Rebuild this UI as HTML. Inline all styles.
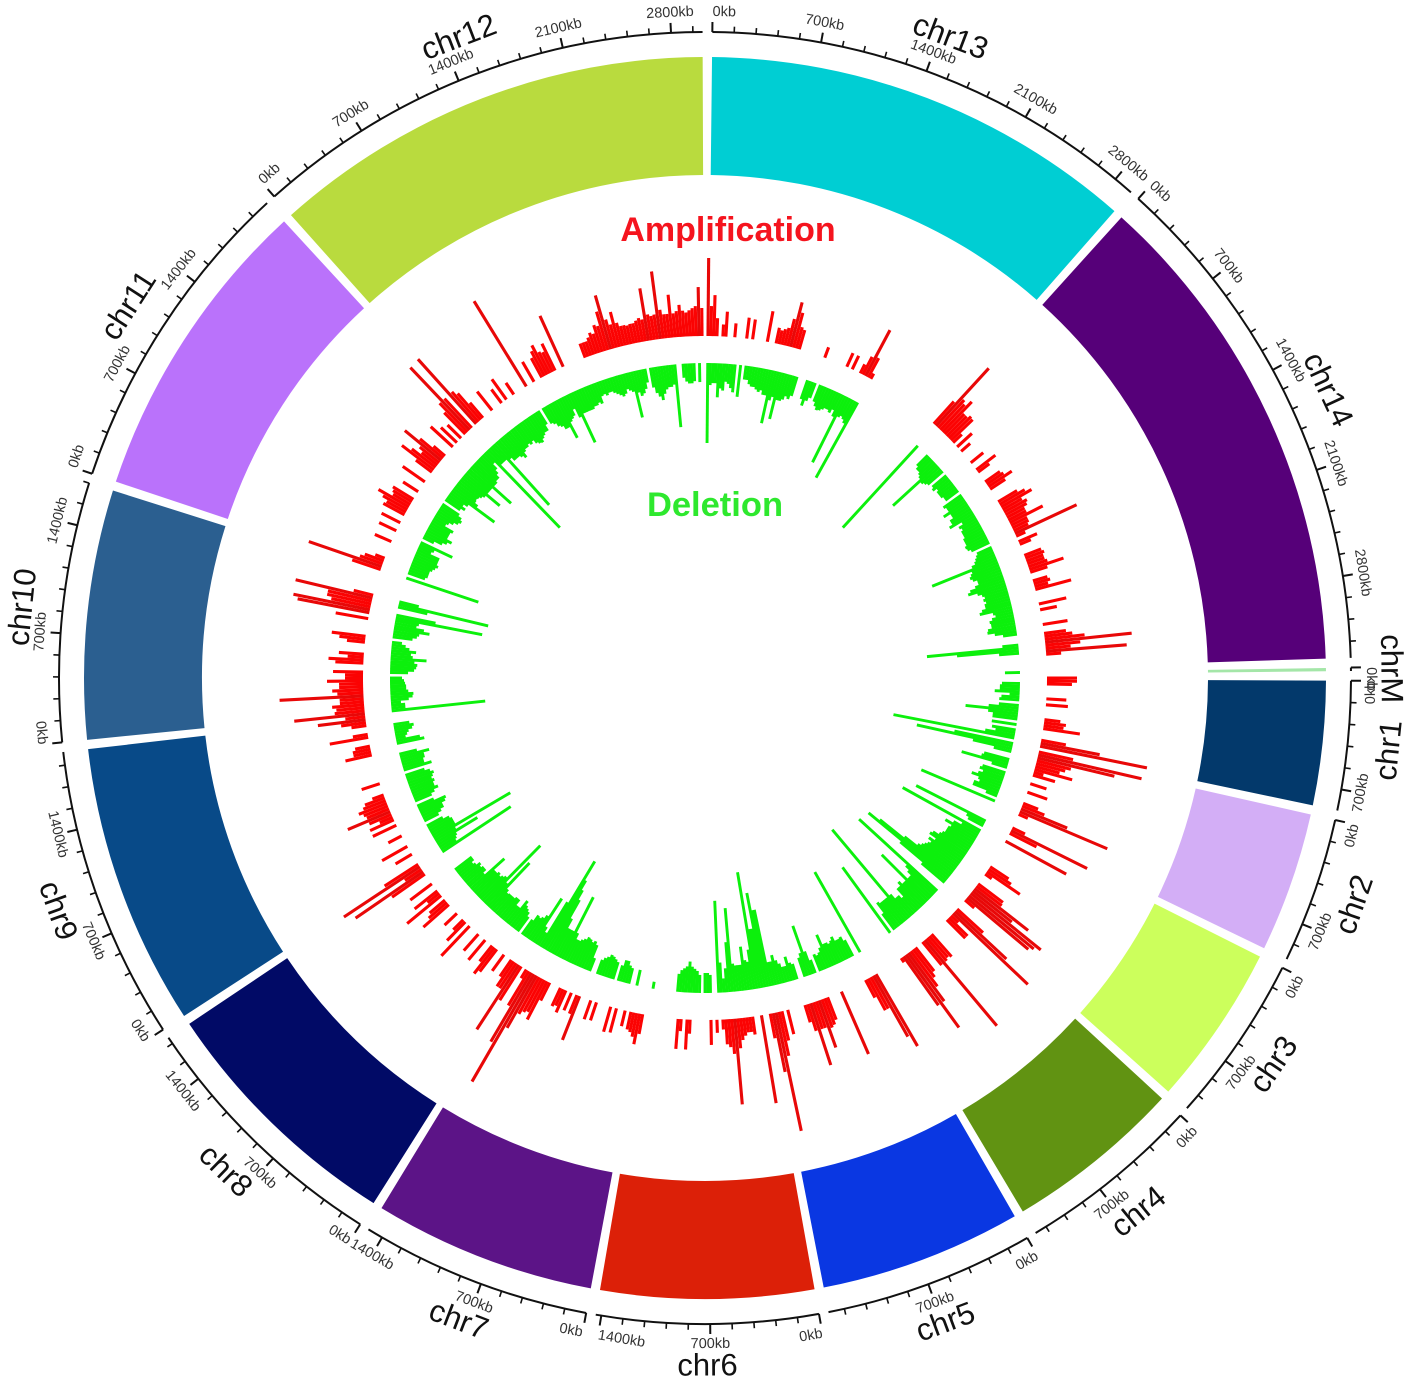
<!DOCTYPE html>
<html lang="en">
<head>
<meta charset="utf-8">
<title>Circos plot of amplification and deletion</title>
<style>
html,body{margin:0;padding:0;background:#fff;width:1417px;height:1391px;overflow:hidden}
svg{display:block}
text{font-family:"Liberation Sans",sans-serif}
</style>
</head>
<body>
<svg id="chart" xmlns="http://www.w3.org/2000/svg" width="1417" height="1391" viewBox="0 0 1417 1391">
<text x="728" y="241" text-anchor="middle" font-size="34" font-weight="bold" fill="#f5141e">Amplification</text>
<text x="715" y="516" text-anchor="middle" font-size="34.5" font-weight="bold" fill="#2ee82e">Deletion</text>
</svg>
<script>
// Chromosomes in clockwise order starting at the top
const chromNames = ["chr13","chr14","chrM","chr1","chr2","chr3","chr4","chr5","chr6","chr7","chr8","chr9","chr10","chr11","chr12"];
const chromLengthsKb = [2930,3327,22,837,945,1090,1198,1364,1436,1501,1725,1905,1681,2085,3002];
const chromColors = ["#00ced3","#560079","#a4e6a8","#03396b","#d3aef6","#ccff5c","#619312","#0a37e2","#dc2008","#5c1487","#010a66","#084a88","#2b5f90","#ba72fb","#b9db3e"];
// Amplification heights, one row per 10 degrees of the circle, 0.5 degree bins
const redValues = [
0,78,30,41,18,0,12,25,0,0,14,0,0,0,21,0,20,0,0,0,
0,31,0,0,16,14,16,18,28,46,36,22,20,0,0,0,0,0,0,0,
0,11,0,0,0,0,0,0,0,15,0,15,0,0,10,20,52,22,6,0,
0,0,0,0,0,0,0,0,0,0,0,0,0,0,0,0,0,0,0,0,
0,0,0,0,30,78,38,35,42,28,28,31,30,12,0,20,0,12,0,0,
0,0,16,0,0,24,14,0,0,0,18,20,28,18,0,0,0,0,22,29,
35,22,26,24,20,20,37,18,18,16,68,10,0,20,12,0,0,0,18,20,
18,18,20,36,18,0,0,15,17,14,37,0,0,0,0,28,0,17,0,0,
0,0,25,0,0,22,28,40,87,35,25,81,15,0,0,0,0,0,0,0,
30,30,25,0,0,0,0,20,0,22,0,0,0,0,16,22,20,37,0,0,
0,25,60,109,0,35,106,79,35,30,25,39,10,23,0,0,17,0,0,21,
0,0,0,16,24,50,95,10,0,0,0,0,14,85,30,0,0,69,0,0,
0,0,0,0,0,0,0,22,27,40,8,0,0,0,31,32,68,50,90,84,
80,12,0,0,0,35,70,103,10,26,26,0,0,0,0,0,0,30,28,30,
112,30,0,0,30,35,44,60,90,60,5,0,0,0,0,0,0,0,0,0,
83,70,36,36,20,0,0,0,0,0,0,0,0,68,0,0,0,0,24,28,
30,50,28,28,65,28,18,0,0,0,0,0,25,0,30,45,121,60,25,0,
0,89,0,0,18,15,15,18,22,30,86,35,28,25,10,0,13,0,25,0,
0,0,0,0,0,14,30,0,12,30,0,0,0,0,0,0,0,0,0,0,
0,20,31,24,20,18,0,16,0,0,25,0,26,0,0,0,0,19,0,20,
0,0,0,47,20,0,19,0,24,18,20,0,0,0,20,43,36,38,42,60,
124,80,40,10,0,40,77,30,30,20,0,0,20,0,0,28,33,20,0,0,
26,0,0,22,0,0,0,41,0,26,14,0,0,17,0,0,0,34,24,20,
0,44,15,29,0,0,27,0,0,0,40,82,20,91,40,0,0,0,19,0,
0,29,0,0,0,15,0,0,0,26,0,26,14,24,46,24,26,30,24,21,
12,0,0,0,19,0,0,0,0,0,0,0,0,0,27,18,18,15,0,0,
39,15,0,0,15,25,48,20,71,30,28,32,24,24,84,26,31,24,24,36,
18,18,30,0,0,28,35,16,25,0,0,0,18,26,34,0,0,0,0,0,
33,0,73,78,40,45,45,79,20,0,0,0,0,0,0,0,0,30,77,24,
20,10,0,0,0,0,0,18,0,0,0,19,0,0,21,0,0,24,22,28,
35,20,22,24,0,0,18,0,0,0,27,0,0,0,20,40,30,20,25,47,
30,15,0,0,0,30,0,22,0,19,0,30,40,86,40,0,87,40,35,20,
0,0,0,24,0,0,0,17,0,25,0,0,14,0,0,0,0,100,0,0,
23,0,0,22,28,33,24,22,30,0,0,56,0,0,0,0,0,0,0,15,
15,15,18,22,20,28,26,40,56,30,24,36,24,20,20,19,20,20,22,24,
22,53,26,24,25,68,29,24,24,43,24,26,32,26,24,26,28,30,49,28
];
// Deletion depths, same binning as the amplification track
const greenValues = [
0,80,22,20,20,34,25,27,18,20,24,28,0,32,0,14,14,18,20,20,
22,24,22,26,26,54,30,26,48,28,28,26,22,24,20,0,0,0,20,26,
20,16,0,18,22,25,24,22,20,20,22,18,24,74,22,20,22,25,86,0,
0,0,0,0,0,0,0,0,0,0,0,0,0,0,0,0,0,0,0,0,
0,0,0,0,0,111,0,0,0,0,15,18,18,20,22,60,24,22,20,0,
18,20,16,18,18,18,16,16,0,22,20,20,27,20,20,24,24,28,15,20,
18,20,20,20,22,22,22,24,23,20,0,16,18,20,22,26,70,28,30,32,
30,26,26,30,36,39,30,26,24,26,24,26,26,30,33,20,18,22,25,24,
24,28,29,22,14,0,0,0,16,92,62,20,0,0,0,0,0,0,15,0,
0,0,18,20,20,25,10,18,20,0,20,30,53,30,25,25,0,25,0,24,
20,30,123,0,60,98,40,18,0,0,26,28,48,16,0,24,26,22,26,32,
24,22,27,27,12,0,80,0,0,0,0,0,0,0,78,20,17,0,89,20,
28,36,28,30,30,30,32,34,40,42,34,40,36,38,40,42,45,60,90,103,
60,30,0,0,0,106,40,35,30,30,65,30,30,34,30,30,20,24,24,30,
117,30,30,30,30,32,20,0,81,0,0,0,0,0,0,0,0,0,0,0,
0,92,0,0,18,23,22,22,27,24,22,24,24,35,22,18,16,18,0,14,
24,52,24,20,0,0,16,18,25,16,16,20,24,30,24,24,78,78,96,60,
60,118,40,28,30,44,26,26,26,28,84,50,24,14,30,92,0,0,18,20,
20,0,18,22,24,26,31,26,24,22,18,0,0,0,0,0,0,0,0,7,
0,0,0,0,0,16,0,0,16,18,22,22,16,0,18,20,22,23,20,18,
15,0,0,14,27,30,28,30,31,28,26,24,24,30,69,30,30,30,40,60,
70,80,101,52,15,20,52,30,26,24,25,18,0,18,22,24,26,30,20,20,
26,26,24,24,24,23,26,60,30,80,34,32,30,32,30,30,45,20,24,24,
22,24,20,18,21,21,0,0,0,0,0,0,0,82,18,20,22,48,24,89,
26,26,26,24,18,0,16,20,24,24,28,30,18,0,18,22,27,24,24,26,
24,26,28,25,20,0,29,22,22,24,24,30,18,0,0,0,28,24,10,12,
14,18,20,16,0,0,0,0,94,14,14,10,18,22,23,18,16,16,15,14,
12,0,18,24,26,27,24,36,22,20,25,18,14,10,0,20,24,26,36,30,
22,24,88,40,0,0,30,92,20,0,0,0,0,0,0,0,0,76,0,18,
20,20,20,22,24,26,24,24,24,14,16,35,0,12,20,24,28,22,22,22,
24,14,16,20,24,26,24,20,0,18,22,18,22,53,30,26,25,26,28,30,
47,30,30,30,54,30,30,28,28,24,20,14,106,20,20,20,82,22,26,26,
26,28,31,26,24,24,22,24,22,26,28,29,26,24,22,22,16,0,18,20,
24,26,30,30,43,26,24,22,16,26,55,24,24,24,24,24,22,22,20,22,
15,14,16,14,14,16,18,20,22,20,16,18,20,47,22,26,24,20,14,0,
20,26,30,34,28,24,22,22,20,63,0,0,14,18,20,20,18,0,19,0
];

const svgNS = "http://www.w3.org/2000/svg";
const svg = document.getElementById("chart");
const CX = 705, CY = 678;
const DEG_PER_KB = 9.7 / 700, GAP_DEG = 0.86, START_DEG = 0.65;
const BIN_DEG = 0.5;
const R_SECTOR_OUT = 621, R_SECTOR_IN = 503, R_TICK = 646;
const R_TICK_LABEL = 666, R_CHROM_LABEL = 687;
const R_RED_BASE = 342, R_GREEN_BASE = 315;

function polar(deg, r) {
  const a = deg * Math.PI / 180;
  return [CX + r * Math.sin(a), CY - r * Math.cos(a)];
}
function kbToDeg(kb) { return kb * DEG_PER_KB; }
function isFlipped(deg) {
  const d = ((deg % 360) + 360) % 360;
  return d > 90 && d < 270;
}
function labelRotation(deg) {
  const d = ((deg % 360) + 360) % 360;
  return isFlipped(d) ? d - 180 : d;
}
// Keeps the first and last tick label of a chromosome inside its own span
function tickAnchor(kb, len, deg) {
  const flipped = isFlipped(deg);
  if (kb === 0) return flipped ? "end" : "start";
  if (len - kb < 100) return flipped ? "start" : "end";
  return "middle";
}
function make(tag, attrs, parent) {
  const el = document.createElementNS(svgNS, tag);
  for (const k in attrs) el.setAttribute(k, attrs[k]);
  parent.appendChild(el);
  return el;
}

const trackGroup = make("g", {}, svg);


const sectorGroup = make("g", {}, svg);



let cursor = START_DEG;
chromNames.forEach(function (name, i) {
  const len = chromLengthsKb[i];
  const a0 = cursor, a1 = cursor + kbToDeg(len);
  cursor = a1 + GAP_DEG;
  const large = (a1 - a0) > 180 ? 1 : 0;
  const p0 = polar(a0, R_SECTOR_OUT), p1 = polar(a1, R_SECTOR_OUT);
  const p2 = polar(a1, R_SECTOR_IN), p3 = polar(a0, R_SECTOR_IN);
  const sector = make("path", {
    d: "M" + p0 + "A" + R_SECTOR_OUT + " " + R_SECTOR_OUT + " 0 " + large + " 1 " + p1 +
       "L" + p2 + "A" + R_SECTOR_IN + " " + R_SECTOR_IN + " 0 " + large + " 0 " + p3 + "Z",
    fill: chromColors[i]
  }, sectorGroup);
  
  

  const q0 = polar(a0, R_TICK), q1 = polar(a1, R_TICK);
  const arc = make("path", {
    d: "M" + q0 + "A" + R_TICK + " " + R_TICK + " 0 " + large + " 1 " + q1,
    fill: "none", stroke: "#111", "stroke-width": 2
  }, sectorGroup);
  
  

  for (let kb = 0; kb <= len; kb += 140) {
    const major = kb % 700 === 0;
    const deg = a0 + kbToDeg(kb);
    const t0 = polar(deg, R_TICK), t1 = polar(deg, R_TICK + (major ? 10 : 6));
    const tick = make("line", {
      x1: t0[0], y1: t0[1], x2: t1[0], y2: t1[1],
      stroke: "#111", "stroke-width": major ? 2 : 1.6
    }, sectorGroup);
    
    
    if (major) {
      const lp = polar(deg, R_TICK_LABEL);
      const lab = make("text", {
        x: lp[0], y: lp[1], "text-anchor": tickAnchor(kb, len, deg), "dominant-baseline": "central",
        "font-size": 14.5, fill: "#333",
        transform: "rotate(" + labelRotation(deg) + " " + lp[0] + " " + lp[1] + ")"
      }, sectorGroup);
      lab.textContent = kb + "kb";
      
      
    }
  }

  const mid = (a0 + a1) / 2;
  const cp = polar(mid, R_CHROM_LABEL);
  const chromLabel = make("text", {
    x: cp[0], y: cp[1], "text-anchor": "middle", "dominant-baseline": "central",
    "font-size": 31, fill: "#111",
    transform: "rotate(" + labelRotation(mid) + " " + cp[0] + " " + cp[1] + ")"
  }, sectorGroup);
  chromLabel.textContent = name;
  
  
});

function binToDeg(i) { return i * BIN_DEG; }
function redRadius(v) { return R_RED_BASE + v; }
function greenRadius(v) { return R_GREEN_BASE - v; }

redValues.forEach(function (v, i) {
  if (!v) return;
  const deg = binToDeg(i);
  const a = polar(deg, R_RED_BASE), b = polar(deg, redRadius(v));
  const bar = make("line", {
    x1: a[0], y1: a[1], x2: b[0], y2: b[1],
    stroke: v > 45 ? "#e80808" : "#fb0303", "stroke-width": 3.1
  }, trackGroup);
  
  
});
greenValues.forEach(function (v, i) {
  if (!v) return;
  const deg = binToDeg(i);
  const a = polar(deg, R_GREEN_BASE), b = polar(deg, greenRadius(v));
  const bar = make("line", {
    x1: a[0], y1: a[1], x2: b[0], y2: b[1],
    stroke: "#0cf00c", "stroke-width": 2.9
  }, trackGroup);
  
  
});
</script>
</body>
</html>
